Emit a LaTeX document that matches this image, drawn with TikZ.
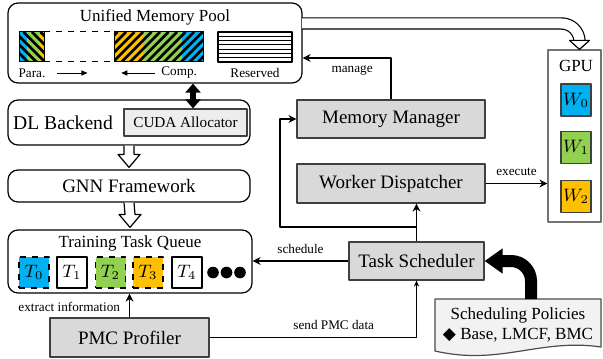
\documentclass[tikz,border=0pt]{standalone}
\usepackage{fontspec}
\setmainfont{Liberation Serif}
\newfontfamily\symfont{DejaVu Sans}
\usetikzlibrary{arrows.meta,calc}
\definecolor{cblue}{HTML}{00B0F0}
\definecolor{cgreen}{HTML}{92D050}
\definecolor{cyellow}{HTML}{FFC000}
\definecolor{boxgray}{HTML}{D9D9D9}
\definecolor{pagegray}{HTML}{F2F2F2}
\definecolor{cudagray}{HTML}{EDEDED}

% striped memory block: x1, x2, colour, slope (1 for /, -1 for \)
\newcommand\stripedblock[4]{%
  \fill[#3] (#1,32) rectangle (#2,62);
  \begin{scope}
    \clip (#1,32) rectangle (#2,62);
    \foreach \s in {-40,-31.5,...,300}
      \draw[line width=1.3pt] (\s,62) -- ++(30*#4,-30);
  \end{scope}}

% hollow block arrow pointing down, from the bottom of #1 to the top of #2
\newcommand\hollowdown[2]{%
  \draw[fill=white, line width=0.6pt]
    ($(#1.south)+(-5,0)$) -- ($(#2.north)+(-5,-15)$) -- ++(-6,0) -- ($(#2.north)+(0,-2)$)
    -- ($(#2.north)+(11,-15)$) -- ++(-6,0) -- ($(#1.south)+(5,0)$);}

\tikzset{
  bigtext/.style={font=\fontsize{9.5}{11}\selectfont},
  midtext/.style={font=\fontsize{8.5}{10}\selectfont},
  smalltext/.style={font=\fontsize{6.6}{8}\selectfont},
  roundbox/.style={draw, line width=0.6pt, rounded corners=5pt, inner sep=0pt},
  graybox/.style={draw=black!75, fill=boxgray, line width=0.6pt, inner sep=0pt, bigtext},
  taskbox/.style={draw, line width=0.6pt, minimum width=15pt, minimum height=15.5pt, inner sep=0pt, font=\fontsize{9}{10}\selectfont},
  wbox/.style={draw=black!75, line width=0.6pt, minimum width=15pt, minimum height=16pt, inner sep=0pt, font=\fontsize{9}{10}\selectfont},
  conn/.style={line width=0.9pt, -{Stealth[length=4pt,width=4pt]}},
  plain/.style={line width=0.9pt},
}

\begin{document}
\begin{tikzpicture}[x=0.5pt, y=-0.5pt, line join=round]
\useasboundingbox (0,0) rectangle (603,358);

% ---------------- unified memory pool ----------------
\node[roundbox, minimum width=147pt, minimum height=40pt] (pool) at (155,43) {};
\node[midtext] (pooltitle) at (155,17) {Unified Memory Pool};

\stripedblock{19}{27}{cblue}{-1}
\stripedblock{27}{39}{cgreen}{-1}
\stripedblock{39}{44}{cyellow}{-1}
\stripedblock{114}{143}{cyellow}{1}
\stripedblock{143}{182}{cgreen}{1}
\stripedblock{182}{203}{cblue}{1}
\draw[line width=0.5pt] (19,32) rectangle (44,62);
\draw[line width=0.5pt] (114,32) rectangle (203,62);
\draw[line width=0.5pt, dashed] (44,32) -- (114,32) (44,62) -- (114,62);

\draw[line width=0.6pt] (218,32) rectangle (292,62);
\foreach \k in {1,...,6}
  \draw[line width=0.4pt] (218,{32+\k*4.2857}) -- (292,{32+\k*4.2857});

\node[smalltext] (para) at (32,73) {Para.};
\node[smalltext, anchor=east] (comp) at (204,73) {Comp.};
\node[smalltext] (reserved) at (255,73) {Reserved};
\draw[line width=0.4pt, -{Triangle[length=3pt,width=2.6pt]}] ([xshift=2.5pt]para.east) -- ++(15pt,0);
\draw[line width=0.4pt, -{Triangle[length=3pt,width=2.6pt]}] ([xshift=0.5pt]comp.west) -- ++(-17pt,0);

% ---------------- software stack ----------------
\node[roundbox, minimum width=121pt, minimum height=22.5pt] (dl) at (129,122.5) {};
\node[font=\fontsize{9.8}{12}\selectfont] (dltext) at (63,122.5) {DL Backend};
\node[draw=black!75, fill=cudagray, line width=0.6pt, minimum width=61.5pt, minimum height=13.5pt,
      inner sep=0pt, font=\fontsize{7.6}{9}\selectfont] (cuda) at (185.5,122.5) {CUDA Allocator};

\node[roundbox, minimum width=121pt, minimum height=16pt, bigtext] (gnn) at (129,186) {GNN Framework};

\node[roundbox, minimum width=122pt, minimum height=31.5pt] (queue) at (130,261.5) {};
\node[midtext] (queuetitle) at (130,243) {Training Task Queue};
\node[taskbox, fill=cblue, dashed] (t0) at (34,272.5) {$T_0$};
\node[taskbox] (t1) at (72,272.5) {$T_1$};
\node[taskbox, fill=cgreen, dashed] (t2) at (110.5,272.5) {$T_2$};
\node[taskbox, fill=cyellow, dashed] (t3) at (148,272.5) {$T_3$};
\node[taskbox] (t4) at (187,272.5) {$T_4$};
\foreach \x in {213,226.5,240}
  \fill (\x,272.5) circle[radius=2.9pt];

\node[graybox, minimum width=79.5pt, minimum height=19.5pt] (pmc) at (129.5,337.5) {PMC Profiler};

% hollow arrows down the stack
\hollowdown{dl}{gnn}
\hollowdown{gnn}{queue}

% pool <-> CUDA allocator
\coordinate (xa) at (193,0);
\draw[line width=3pt, {Triangle[length=4.5pt,width=7.5pt]}-{Triangle[length=4.5pt,width=7.5pt]}]
  (pool.south -| xa) -- (cuda.north -| xa);

% ---------------- runtime components ----------------
\node[graybox, minimum width=94pt, minimum height=19pt] (mm) at (391,119) {Memory Manager};
\node[graybox, minimum width=94pt, minimum height=19.5pt] (wd) at (391,183.5) {Worker Dispatcher};
\node[graybox, minimum width=67.5pt, minimum height=19pt] (ts) at (416.5,261) {Task Scheduler};

% GPU with workers
\node[draw=black!55, line width=0.6pt, minimum width=26.5pt, minimum height=86pt, inner sep=0pt] (gpu) at (574.5,136) {};
\node[midtext] (gpulabel) at (576,66) {GPU};
\node[wbox, fill=cblue] (w0) at (576,100) {$W_0$};
\node[wbox, fill=cgreen] (w1) at (576,147.5) {$W_1$};
\node[wbox, fill=cyellow] (w2) at (576,196.5) {$W_2$};

% scheduling policies sheet
\draw[draw=black!70, fill=pagegray, line width=0.6pt]
  (435,299) -- (601,299) -- (601,347) .. controls (540,338) and (500,366) .. (435,351) -- cycle;
\node[midtext, align=center] (pol) at (518,325) {Scheduling Policies\\{\symfont ◆} Base, LMCF, BMC};

% ---------------- connectors ----------------
\draw[conn] (ts.west) -- node[smalltext, above, pos=0.5] {schedule} (ts.west -| queue.east);
\draw[conn] (pmc.north) -- node[smalltext, left=1pt, pos=0.45] {extract information} (pmc.north |- queue.south);
\draw[plain, -{Stealth[length=3pt,width=2.6pt]}] (pmc.east) -| node[smalltext, above, pos=0.3] {send PMC data} (ts.south);
\draw[conn] (ts.north) -- (ts.north |- wd.south);
\coordinate (jl) at (280,227);
\draw[conn] (ts.north |- jl) -- (jl) |- (mm.west);
\draw[conn] (mm.north) |- node[smalltext, below, pos=0.72] {manage} ([yshift=-7.5pt]pool.east);
\draw[conn] (wd.east) -- node[smalltext, above] {execute} (wd.east -| gpu.west);

% pool -> GPU double-line arrow
\coordinate (po) at (302,23.5);
\coordinate (gh) at ([xshift=2.5pt]gpu.north);
\draw[double, double distance=5pt, line width=0.6pt, rounded corners=9pt] (po) -| ([yshift=4.5pt]gh);
\draw[line width=0.6pt, fill=white] ([xshift=-5pt,yshift=4.5pt]gh) -- ([xshift=5pt,yshift=4.5pt]gh) -- (gh) -- cycle;

% policies -> scheduler thick arrow
\coordinate (polin) at (531,299);
\draw[line width=6pt, -{Triangle[length=9pt,width=12pt]}, rounded corners=10pt] (polin) |- (ts.east);

\end{tikzpicture}
\end{document}
